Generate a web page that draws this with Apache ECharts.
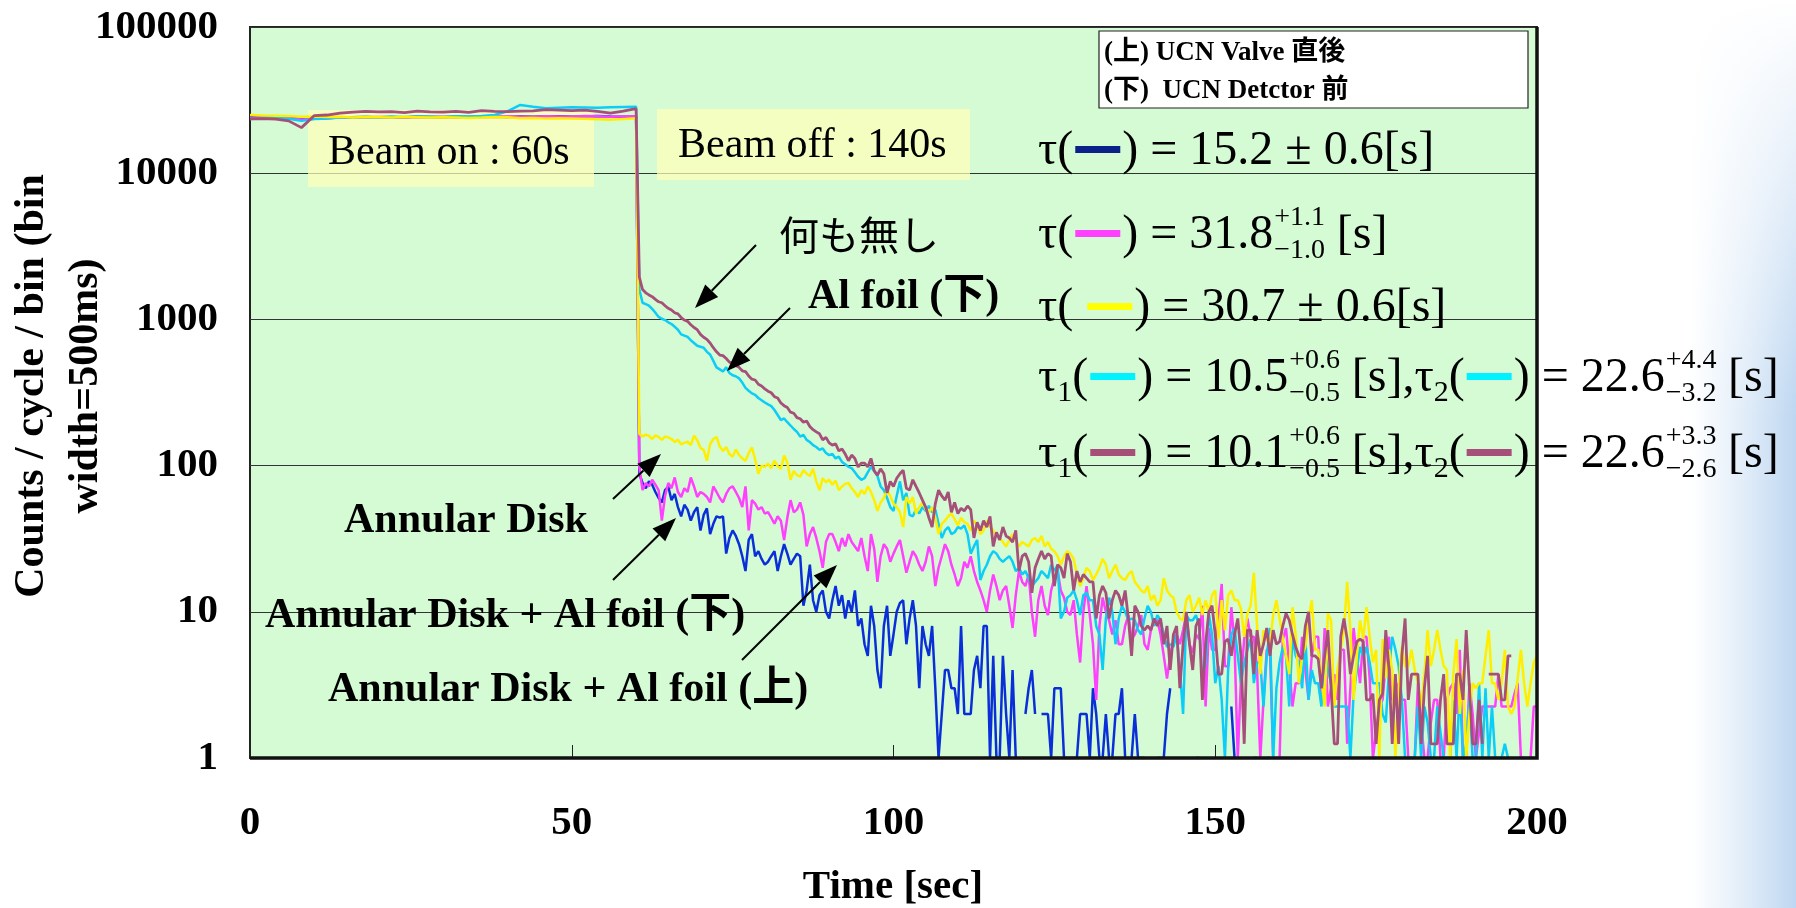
<!DOCTYPE html>
<html>
<head>
<meta charset="utf-8">
<title>UCN time spectrum</title>
<script src="https://cdn.jsdelivr.net/npm/echarts@6/dist/echarts.min.js"></script>
<style>
html, body { margin: 0; padding: 0; background: #fff; }
#main { width: 1796px; height: 908px; }
</style>
</head>
<body>
<div id="main"></div>
<script>
// ビーム照射中 (2 s 刻み) とビーム停止後 (0.5 s ビン)
const onTime = [0, 2, 4, 6, 8, 10, 12, 14, 16, 18, 20, 22, 24, 26, 28, 30, 32, 34, 36, 38, 40, 42, 44, 46, 48, 50, 52, 54, 56, 58, 60]
const offTime = []
for (let i = 0; i < 280; i++) offTime.push(60.5 + i * 0.5)

const xTickLabels = ['0', '50', '100', '150', '200']
const yTickLabels = ['1', '10', '100', '1000', '10000', '100000']

// 何も無し
const mauveOn = [23500, 23600, 23400, 22800, 20500, 24800, 25000, 25800, 26200, 26500, 26300, 26400, 26000, 26600, 26300, 26200, 26500, 26100, 26800, 26500, 26400, 26600, 26700, 27200, 27000, 26800, 27000, 26500, 25800, 26600, 27600]
const mauveOff = [
  1950, 1600, 1520, 1470, 1430, 1370, 1320, 1300, 1240, 1190,
  1160, 1110, 1090, 1030, 990, 970, 920, 880, 850, 790,
  755, 730, 690, 640, 600, 570, 565, 540, 510, 500,
  483, 470, 445, 440, 410, 390, 385, 360, 350, 335,
  323, 315, 296, 290, 268, 257, 250, 232, 228, 213,
  209, 198, 202, 185, 176, 170, 165, 150, 156, 143,
  138, 141, 126, 130, 120, 108, 118, 112, 98, 104,
  104, 98, 112, 92, 86, 95, 88, 65, 78, 72,
  82, 88, 93, 70, 68, 80, 72, 65, 58, 52,
  44, 38, 55, 68, 62, 58, 66, 48, 56, 47,
  51, 49, 53, 50, 32, 41, 36, 42, 38, 45,
  28, 35, 31, 38, 33, 32, 30, 36, 19, 24,
  25, 22, 13.5, 20, 23, 26, 23, 25, 24, 15,
  21, 20, 17, 25, 22, 14, 19, 16, 18, 17,
  16, 16, 9, 13, 15, 13.5, 9, 12, 14, 13,
  11, 14, 9, 5, 11, 10, 8, 7.5, 8, 7.5,
  9, 8, 9, 6, 8, 4, 7, 8, 3, 6,
  10, 6, 4, 8, 9, 2.5, 6, 10, 11, 7,
  3.75, 3.75, 6.25, 6.5, 5, 7, 9, 5, 1.25, 7.5,
  7.5, 3.75, 7.5, 5, 6, 7.75, 5, 7.5, 6, 6.25,
  8, 9.75, 8.75, 7, 5.75, 5, 4.75, 8, 10, 5,
  5, 4.75, 3, 5, 7.5, 3, 1.25, 1.25, 6.75, 9,
  6.5, 3.75, 5, 6.25, 6.5, 6.25, 2.5, 2.5, 2.75, 1.25,
  2.5, 2.75, 7.5, 4, 1.25, 3.75, 1.25, 5, 9, 2.5,
  3.75, 3.75, 3.75, 1.25, 3, 5, 1.25, 1.25, 1.25, 2.5,
  3.75, 1.25, 1.25, 1.25, 3.75, 3.75, 2.5, 7.5, 3, 1.25,
  1.25, 2.5, 1.25, null, 3.75, 3.75, 3.75, 3.75, 2.5, 2.5,
  5, 5, null, null, null, null, null, null, null, null
]

// Al foil (下)
const cyanOn = [23500, 23800, 23900, 23600, 22800, 23500, 23700, 24000, 24100, 24200, 24000, 24300, 24200, 24400, 24300, 24200, 24500, 24400, 24600, 25000, 26500, 29300, 28500, 27800, 28000, 28200, 28100, 28000, 28300, 28400, 28500]
const cyanOff = [
  1600, 1300, 1270, 1240, 1180, 1110, 1040, 1010, 990, 955,
  930, 890, 850, 790, 775, 760, 720, 690, 660, 650,
  640, 600, 575, 520, 470, 455, 440, 470, 430, 415,
  408, 395, 370, 340, 325, 312, 305, 290, 280, 270,
  262, 255, 240, 222, 205, 210, 198, 188, 178, 170,
  158, 162, 150, 145, 138, 134, 128, 131, 122, 118,
  120, 112, 115, 106, 102, 98, 96, 90, 84, 80,
  82, 90, 98, 92, 85, 72, 68, 60, 52, 49,
  62, 78, 58, 65, 46, 45, 50, 47, 52, 49,
  53, 48, 50, 40, 32, 36, 38, 34, 35, 38,
  37, 39, 34, 25, 28, 31, 16.5, 19, 21, 24,
  26, 25, 23, 22, 23, 24, 22, 19, 20, 18,
  19, 17, 15, 16, 17, 19, 18, 17, 21, 19,
  21, 9, 10, 12.5, 13, 14, 12, 9.5, 13, 13.5,
  12, 12, 8, 7, 4, 9, 12.5, 10, 6, 9,
  11, 10, 8.75, 9, 8.75, 7.5, 7, 9, 11, 10,
  8, 9.5, 8.75, 7, 5.75, 6, 5.75, 7, 4, 2,
  9.5, 8.75, 8.75, 9.5, 8, 3.5, 4.5, 9.75, 7, 3.25,
  4.25, 2.5, 1, 4, 7, 7.75, 5, 3.25, 4.5, 5.5,
  6.5, 3.25, 4.5, 4.5, 2.25, 5, 7.75, 1, 3, 4.5,
  5.75, 5, 2.25, 6.75, 5, 4.5, 3, 6.75, 2.5, 4,
  3.25, 3.25, 2.25, 5.5, 4, 3.25, 2.25, 2.25, 2.25, 2.25,
  2.25, 1, 2.75, 4, 5.75, 5, 5.75, 4.5, 3.25, 3.25,
  3.25, 2, 1.75, 4, 6.75, 5.5, 4.25, 2.5, 1, 1,
  1, 1, 2.25, 1, 2.25, 1.75, 1, 1, 2.25, 1.5,
  1, 1, 1, 2.5, 1, 3, 1, 1.25, 2.5, 1,
  1, 3.25, 1, 3, 1, 2.25, 1, 1, 1, 1.25,
  1, 1, null, 1, 1, 1, null, 1, 1, 1
]

// Annular Disk
const yellowOn = [25000, 24800, 24700, 24600, 24300, 24400, 24200, 24300, 24000, 24200, 24100, 24000, 24200, 24100, 24000, 24100, 24000, 23900, 24000, 24200, 24100, 23800, 23900, 23700, 23800, 23700, 23600, 23400, 23200, 23500, 23800]
const yellowOff = [
  165, 158, 163, 160, 152, 161, 157, 150, 158, 156,
  152, 145, 150, 140, 143, 146, 138, 160, 149, 132,
  128, 108, 140, 152, 157, 135, 126, 134, 120, 115,
  129, 118, 112, 108, 122, 133, 110, 88, 100, 98,
  103, 96, 108, 99, 95, 117, 105, 80, 92, 86,
  84, 93, 88, 85, 95, 78, 68, 82, 77, 80,
  74, 79, 68, 72, 75, 76, 70, 66, 61, 68,
  64, 72, 66, 58, 49, 56, 60, 68, 62, 55,
  52, 48, 38, 61, 55, 61, 47, 52, 56, 50,
  48, 52, 44, 34, 40, 42, 45, 47, 43, 39,
  44, 41, 40, 36, 42, 39, 34, 36, 42, 38,
  36, 33, 32, 30, 28, 31, 34, 31, 28, 30,
  29, 28, 31, 32, 30, 33, 28, 30, 27, 26,
  24, 21, 24, 26, 25, 23, 18, 15, 17, 20,
  19, 16.5, 18, 20, 23, 21, 17, 19, 21, 18,
  17, 16.5, 18, 19, 16, 15, 14, 13.5, 15, 12,
  13, 11, 12, 17, 14, 13, 12.5, 10, 9, 8.75,
  12, 13, 10, 11, 12.5, 9.5, 12, 10, 13, 14,
  6.5, 12, 7.5, 13, 14, 12, 12, 10.5, 6.75, 9.75,
  11, 18.5, 8, 3.75, 7.5, 6.5, 6, 9.5, 12, 9,
  6.5, 5, 3.75, 10.75, 7, 3.25, 5, 5.75, 9, 12,
  5.5, 5.5, 3.5, 2.25, 9.75, 8.75, 2.25, 4, 5.5, 7.5,
  16, 7.5, 2.5, 5, 8.75, 6.5, 10.75, 6.75, 4.5, 5.5,
  1, 6.5, 3.5, 5.5, 4, 1, 3, 5.75, 4.25, 4.25,
  5.5, 4, 3.25, 2.25, 3.75, 7.5, 4.25, 5.5, 7.5, 5.5,
  4.25, 4, 1, 3.75, 6.5, 2, 4, 1, 2, 3.25,
  3, 3.25, 3.25, 5, 7.5, 3.25, 3.25, 2.5, 3.25, 5.5,
  2.25, 2, 2.25, 3.5, 5.5, 3.25, 2.25, 3.25, 4.5, 5
]

// Annular Disk + Al foil (下)
const magentaOn = [23900, 24000, 23900, 23800, 23300, 23600, 23800, 24000, 24100, 24000, 24200, 24100, 24000, 24300, 24200, 24300, 24100, 24200, 24300, 24200, 24400, 24300, 24200, 24500, 24400, 24300, 24600, 24500, 24300, 24400, 24500]
const magentaOff = [
  98, 68, 76, 72, 80, 74, 68, 42, 62, 76,
  70, 83, 66, 61, 70, 66, 83, 72, 61, 66,
  64, 61, 56, 72, 66, 60, 56, 64, 70, 72,
  66, 60, 52, 72, 36, 58, 55, 50, 52, 47,
  48, 44, 40, 45, 42, 31, 44, 58, 48, 50,
  56, 46, 28, 34, 38, 32, 26, 20, 30, 34,
  34, 30, 26, 32, 28, 34, 30, 28, 26, 32,
  24, 19, 34, 27, 16, 24, 29, 27, 22, 25,
  28, 31, 24, 18.5, 22, 26, 24, 21, 19, 22,
  28, 24, 15, 20, 24, 29, 26, 21, 18, 15,
  17, 22, 20, 24, 19, 16, 14, 12, 10, 14,
  18, 15, 12, 14, 15, 11, 7.75, 13, 19, 16,
  15, 18, 10, 6.75, 12, 15, 11, 9.5, 14, 17,
  19, 14, 12.5, 10, 9.5, 12, 7, 4.5, 10, 15,
  9.5, 6, 2.5, 8, 12.5, 10, 8.75, 7, 8.75, 6,
  6, 8, 9.5, 6.5, 7, 8, 9.5, 6, 5.5, 7.5,
  8.75, 8.75, 7, 5, 3.5, 5, 6.5, 7, 6, 7.5,
  9.5, 6, 5.25, 7, 6.5, 11, 2.25, 7.75, 5.5, 5.5,
  9, 15.5, 4.25, 4.25, 10.75, 6, 1, 3.5, 6.5, 9,
  6.75, 6.75, 4, 1, 2.5, 5.5, 5.5, 1, 1, 1,
  6.5, 7.75, 4.25, 2.25, 3.25, 3.25, 6.75, 4, 2.5, 5,
  6.75, 6.75, 2.5, 7.75, 2.25, 3, 3.75, 2.5, 5.5, 5.5,
  1.25, 3, 7.75, 5, 3.25, 6.75, 6.75, 3.5, 1, 1.5,
  2.25, 2.5, 4.5, 6.75, 2.5, 2.5, 3.25, 2.5, 2.5, 1,
  1, 1, 3.25, 1.75, 1, 1, 1.75, 2.5, 2.5, 1,
  1, 2.5, 3, 3.25, 2, 5.5, 1, 1, 3.25, 2,
  1, 1.5, 2.25, 2.25, 2.25, 2.25, 2.25, 3.75, 2.25, 2.25,
  2.25, 2.25, 2.75, 3.25, 1, 1, 1, 1, 2.25, 2.25
]

// Annular Disk + Al foil (上)
const blueOn = [24100, 24000, 24100, 23900, 23400, 23700, 23900, 24000, 24100, 24200, 24100, 24200, 24000, 24300, 24200, 24100, 24300, 24200, 24400, 24300, 24200, 24400, 24300, 24400, 24500, 24300, 24400, 24600, 24400, 24300, 24400]
const blueOff = [
  88, 76, 70, 78, 74, 66, 60, 56, 68, 72,
  58, 64, 52, 45, 54, 50, 42, 48, 52, 36,
  46, 51, 34, 40, 45, 44, 45, 25, 32, 36,
  33, 29, 24, 19, 31, 34, 24, 26, 23, 21,
  22, 24, 26, 19, 24, 29, 25, 21, 23, 25,
  24, 11, 14, 21, 12, 10, 13, 14, 10, 9,
  12, 15, 11, 13, 9, 12, 10, 14, 8, 9,
  6, 5, 11, 8, 4, 3, 8, 11, 5, 7,
  10, 11.5, 12, 6, 9, 12, 8, 3, 8, 6,
  5, 8, 3, 1, 2, 4, 4, 3, 3, 2,
  8, 2, 2, 2, 4, 5, 3, 8, 8, 1,
  5, 1, 1, 5, 2, 1, 4, 1, null, null,
  2, 3, 4, 2, null, 2, 2, 2, 1, 3,
  3, 3, 1, 1, 1, 1, 1, 2, 2, 2,
  1, 3, 2, 1, 1, 2, 1, 1, 2, 2,
  3, 1, 1, 1, 2, 1, 1, 1, null, null,
  null, 1, 1, 1, 2, 3, null, null, null, null,
  null, null, null, 1, 1, null, null, null, null, null,
  null, null, null, null, 2.25, 1, null, null, null, null,
  null, 1, 1, null, null, 1, 1, null, null, null,
  null, null, null, null, null, null, null, null, null, null,
  null, null, null, null, null, null, null, null, null, null,
  null, null, null, null, null, null, null, null, 1, 1,
  null, null, null, null, null, null, null, null, null, null,
  null, null, null, null, null, 1, 1, null, null, null,
  null, null, null, null, null, null, null, null, null, null,
  null, null, null, null, null, null, null, null, null, null,
  null, null, null, null, null, null, null, null, null, null
]

const SERIF = '"Liberation Serif", "Noto Sans CJK JP", serif'
const BLUE = '#0a2fd8', NAVY = '#0b2089', MAGENTA = '#ff40ff', YELLOW = '#ffee00', CYAN = '#0ccdf8', MAUVE = '#a64f79'
const THIN = '\u2009'

function toData(onV, offV) {
  let d = onTime.map((t, i) => [t, onV[i]])
  return d.concat(offTime.map((t, i) => [t, offV[i] == null ? '-' : offV[i]]))
}

// 文字幅の計測
const ctx = document.createElement('canvas').getContext('2d')
function tw(s, size, weight) {
  ctx.font = (weight || 'normal') + ' ' + size + 'px ' + SERIF
  return ctx.measureText(s).width
}

let G = []
function text(x, y, s, size, weight, extra) {
  let el = {
    type: 'text', x: x, y: y, z: 10,
    style: Object.assign({
      text: s, fill: '#000', font: (weight || 'normal') + ' ' + size + 'px ' + SERIF,
      textAlign: 'left', textVerticalAlign: 'middle', align: 'left', verticalAlign: 'middle'
    }, extra || {})
  }
  G.push(el)
  return el
}
function bar(x, y, w, h, color) {
  G.push({ type: 'rect', z: 10, shape: { x: x, y: y, width: w, height: h }, style: { fill: color } })
}

// τ の行を左から並べる
const TF = 48
function tauLine(x0, yc, parts) {
  let x = x0
  parts.forEach(p => {
    if (p[0] === 't') {
      text(x, yc, p[1], TF)
      x += tw(p[1], TF)
    } else if (p[0] === 'sub') {
      text(x, yc + 15, p[1], 30)
      x += tw(p[1], 30)
    } else if (p[0] === 'bar') {
      bar(x + 2, yc - 5, 45, 7, p[1])
      x += 49
    } else if (p[0] === 'ss') {
      text(x + 1, yc - 17, p[1], 28)
      text(x + 1, yc + 16, p[2], 28)
      x += Math.max(tw(p[1], 28), tw(p[2], 28)) + 3
    }
  })
}

function arrow(x1, y1, x2, y2) {
  let a = Math.atan2(y2 - y1, x2 - x1)
  let L = 24, W = 9
  let bx = x2 - L * Math.cos(a), by = y2 - L * Math.sin(a)
  G.push({ type: 'line', z: 10, shape: { x1: x1, y1: y1, x2: bx, y2: by }, style: { stroke: '#000', lineWidth: 2 } })
  G.push({
    type: 'polygon', z: 10,
    shape: { points: [[x2, y2], [bx + W * Math.sin(a), by - W * Math.cos(a)], [bx - W * Math.sin(a), by + W * Math.cos(a)]] },
    style: { fill: '#000' }
  })
}

// 右端の背景グラデーション
G.push({
  type: 'rect', z: -5, shape: { x: 1690, y: 0, width: 106, height: 908 },
  style: { fill: new echarts.graphic.LinearGradient(0, 0, 1, 0, [
    { offset: 0, color: 'rgba(200,222,244,0)' }, { offset: 1, color: 'rgba(186,212,240,0.95)' }]) }
})
G.push({
  type: 'rect', z: -4, shape: { x: 1690, y: 0, width: 106, height: 420 },
  style: { fill: new echarts.graphic.LinearGradient(0, 0, 0, 1, [
    { offset: 0, color: 'rgba(255,255,255,1)' }, { offset: 1, color: 'rgba(255,255,255,0)' }]) }
})

// Beam on / off の枠
G.push({ type: 'rect', z: 1, shape: { x: 308, y: 110, width: 286, height: 77 }, style: { fill: 'rgba(255,255,185,0.72)' } })
G.push({ type: 'rect', z: 1, shape: { x: 657, y: 109, width: 313, height: 71 }, style: { fill: 'rgba(255,255,185,0.72)' } })
text(328, 153, 'Beam on : 60s', 42)
text(678, 146, 'Beam off : 140s', 42)

// 凡例の枠
G.push({ type: 'rect', z: 9, shape: { x: 1099, y: 31, width: 429, height: 77 }, style: { fill: '#fff', stroke: '#222', lineWidth: 1.2 } })
text(1104, 53, '(上) UCN Valve 直後', 27, 'bold')
text(1104, 91, '(下)  UCN Detctor 前', 27, 'bold')

// τ の式
tauLine(1038, 151, [['t', 'τ('], ['bar', NAVY], ['t', ') = 15.2 ± 0.6[s]']])
tauLine(1038, 235, [['t', 'τ('], ['bar', MAGENTA], ['t', ') = 31.8'], ['ss', '+1.1', '−1.0'], ['t', THIN + '[s]']])
tauLine(1038, 308, [['t', 'τ( '], ['bar', '#ffff00'], ['t', ') = 30.7 ± 0.6[s]']])
tauLine(1038, 378, [['t', 'τ'], ['sub', '1'], ['t', '('], ['bar', '#00f2ff'], ['t', ') = 10.5'], ['ss', '+0.6', '−0.5'],
  ['t', THIN + '[s],τ'], ['sub', '2'], ['t', '('], ['bar', '#00f2ff'], ['t', ') = 22.6'], ['ss', '+4.4', '−3.2'], ['t', THIN + '[s]']])
tauLine(1038, 454, [['t', 'τ'], ['sub', '1'], ['t', '('], ['bar', MAUVE], ['t', ') = 10.1'], ['ss', '+0.6', '−0.5'],
  ['t', THIN + '[s],τ'], ['sub', '2'], ['t', '('], ['bar', MAUVE], ['t', ') = 22.6'], ['ss', '+3.3', '−2.6'], ['t', THIN + '[s]']])

// 注釈
text(779, 235, '何も無し', 40, 'normal', { font: 'normal 40px "Noto Sans CJK JP"' })
text(808, 297, 'Al foil (下)', 42, 'bold')
text(344, 521, 'Annular Disk', 42, 'bold')
text(265, 616, 'Annular Disk + Al foil (下)', 42, 'bold')
text(328, 690, 'Annular Disk + Al foil (上)', 42, 'bold')
arrow(756, 245, 695, 308)
arrow(790, 308, 727, 371)
arrow(613, 499, 661, 454)
arrow(613, 580, 676, 518)
arrow(742, 660, 837, 565)

// 軸タイトル
text(893, 887, 'Time [sec]', 41, 'bold', { textAlign: 'center', align: 'center' })
text(59, 386, 'Counts / cycle / bin (bin\nwidth=500ms)', 42, 'bold', { textAlign: 'center', align: 'center', lineHeight: 54 })
G[G.length - 1].rotation = Math.PI / 2

// 右と下の太い枠線
G.push({ type: 'polyline', z: 8, shape: { points: [[1537, 27], [1537, 758], [250, 758]] }, style: { stroke: '#111', lineWidth: 3.5, fill: null } })

let chartDom = document.getElementById('main')
let myChart = echarts.init(chartDom)
let option = {
  animation: false,
  backgroundColor: '#fff',
  grid: {
    left: 250, right: 259, top: 27, bottom: 150,
    show: true, backgroundColor: '#d4fbd4', borderColor: '#222', borderWidth: 2
  },
  xAxis: {
    type: 'value', min: 0, max: 200, interval: 50,
    axisLine: { show: false },
    axisTick: { show: true, inside: true, length: 13, lineStyle: { color: '#222', width: 1 } },
    axisLabel: { margin: 45, color: '#000', fontFamily: SERIF, fontWeight: 'bold', fontSize: 41,
      formatter: v => xTickLabels[Math.round(v / 50)] },
    splitLine: { show: false }
  },
  yAxis: {
    type: 'log', logBase: 10, min: 1, max: 100000,
    axisLine: { show: false },
    axisTick: { show: false },
    axisLabel: { margin: 32, color: '#000', fontFamily: SERIF, fontWeight: 'bold', fontSize: 41,
      formatter: v => yTickLabels[Math.round(Math.log10(v))] },
    splitLine: { show: true, lineStyle: { color: '#333', width: 1.2 } },
    minorTick: { show: false }
  },
  graphic: G,
  series: [
    { name: 'blue', type: 'line', data: toData(blueOn, blueOff), showSymbol: false, lineStyle: { color: BLUE, width: 2.5 } },
    { name: 'magenta', type: 'line', data: toData(magentaOn, magentaOff), showSymbol: false, lineStyle: { color: MAGENTA, width: 2.5 } },
    { name: 'cyan', type: 'line', data: toData(cyanOn, cyanOff), showSymbol: false, lineStyle: { color: CYAN, width: 2.5 } },
    { name: 'yellow', type: 'line', data: toData(yellowOn, yellowOff), showSymbol: false, lineStyle: { color: YELLOW, width: 2.5 } },
    { name: 'mauve', type: 'line', data: toData(mauveOn, mauveOff), showSymbol: false, lineStyle: { color: MAUVE, width: 2.8 } }
  ]
}
option && myChart.setOption(option)
</script>
</body>
</html>
